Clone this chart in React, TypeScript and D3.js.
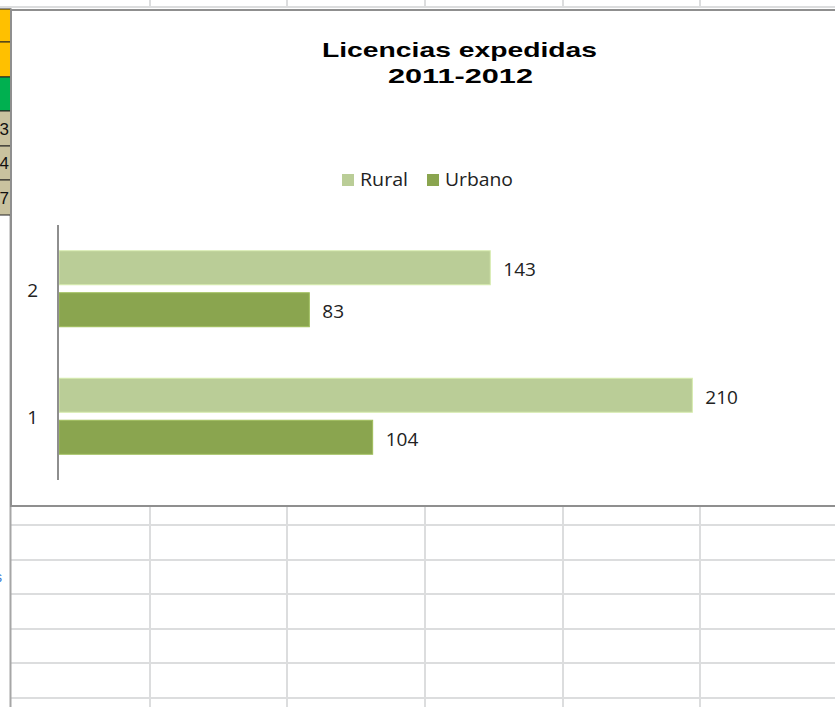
import { useRef, useEffect } from "react";
import * as d3 from "d3";

// chart data
const categories = ["2", "1"]; // top to bottom, as Excel draws them
const seriesNames = ["Rural", "Urbano"];
const rural = { "1": 210, "2": 143 };
const urbano = { "1": 104, "2": 83 };
const seriesColors = ["#BACD97", "#8AA54F"];
const titleLines = ["Licencias expedidas", "2011-2012"];

// spreadsheet decoration around the chart
const sheetCols = [150, 287, 425, 563, 700];
const sheetRows = [525, 560, 594, 629, 663, 698];
const leftCells = [
  { y0: 9, y1: 42, fill: "#FFC000", label: "" },
  { y0: 42, y1: 77, fill: "#FFC000", label: "" },
  { y0: 77, y1: 111, fill: "#00B050", label: "" },
  { y0: 111, y1: 146, fill: "#C9C29F", label: "3" },
  { y0: 146, y1: 180, fill: "#C9C29F", label: "4" },
  { y0: 180, y1: 215, fill: "#C9C29F", label: "7" },
];

const W = 835;
const H = 707;

const App = () => {
  const svgRef = useRef<SVGSVGElement>(null);

  useEffect(() => {
    const svg = d3.select(svgRef.current);
    svg.selectAll("*").remove();

    svg.append("rect").attr("width", W).attr("height", H).attr("fill", "#fff");

    // --- sheet grid
    const grid = svg.append("g").attr("stroke", "#DCDDDE").attr("stroke-width", 2);
    grid.append("line").attr("x1", 0).attr("x2", W).attr("y1", 7).attr("y2", 7);
    sheetCols.forEach((x) => {
      grid.append("line").attr("x1", x).attr("x2", x).attr("y1", 0).attr("y2", 8);
      grid.append("line").attr("x1", x).attr("x2", x).attr("y1", 507).attr("y2", H);
    });
    sheetRows.forEach((y) => {
      grid.append("line").attr("x1", 11).attr("x2", W).attr("y1", y).attr("y2", y);
    });
    svg.append("line")
      .attr("x1", 10.5).attr("x2", 10.5).attr("y1", 215).attr("y2", H)
      .attr("stroke", "#A6A6A6").attr("stroke-width", 2);
    svg.append("text")
      .attr("x", -5).attr("y", 582)
      .attr("font-family", "Liberation Sans, Arial, sans-serif")
      .attr("font-size", 14).attr("fill", "#3A7BD5")
      .text("s");

    const cells = svg.append("g");
    leftCells.forEach((c) => {
      cells.append("rect")
        .attr("x", -2).attr("y", c.y0).attr("width", 13).attr("height", c.y1 - c.y0)
        .attr("fill", c.fill).attr("stroke", "#222").attr("stroke-width", 1);
      if (c.label) {
        cells.append("text")
          .attr("x", 9).attr("y", (c.y0 + c.y1) / 2 + 6)
          .attr("text-anchor", "end")
          .attr("font-family", "Liberation Sans, Arial, sans-serif")
          .attr("font-size", 17).attr("fill", "#111")
          .text(c.label);
      }
    });

    // --- chart frame
    svg.append("rect")
      .attr("x", 11).attr("y", 10).attr("width", W + 20).attr("height", 496)
      .attr("fill", "#fff").attr("stroke", "#8F8F8F").attr("stroke-width", 2);

    // title
    const title = svg.append("g")
      .attr("font-family", "Liberation Sans, Arial, sans-serif")
      .attr("font-weight", "bold").attr("font-size", 21).attr("fill", "#000")
      .attr("text-anchor", "middle");
    title.append("text").attr("x", 459.5).attr("y", 57)
      .attr("textLength", 275).attr("lengthAdjust", "spacingAndGlyphs").text(titleLines[0]);
    title.append("text").attr("x", 460.5).attr("y", 83)
      .attr("textLength", 145).attr("lengthAdjust", "spacingAndGlyphs").text(titleLines[1]);

    // legend
    const legend = svg.append("g")
      .attr("font-family", "Open Sans, sans-serif").attr("font-size", 18).attr("fill", "#222");
    const legendX = [342, 427];
    const legendLen = [48, 68];
    seriesNames.forEach((name, i) => {
      legend.append("rect")
        .attr("x", legendX[i]).attr("y", 174).attr("width", 12).attr("height", 12)
        .attr("fill", seriesColors[i]);
      legend.append("text")
        .attr("x", legendX[i] + 18).attr("y", 186)
        .attr("textLength", legendLen[i]).attr("lengthAdjust", "spacingAndGlyphs")
        .text(name);
    });

    // scales
    const xScale = d3.scaleLinear().domain([0, 250]).range([58, 812]);
    const yScale = d3.scaleBand<string>()
      .domain(categories)
      .range([225, 480])
      .paddingInner(0.404)
      .paddingOuter(0.202);
    const ySeries = d3.scaleBand<string>()
      .domain(seriesNames)
      .range([0, yScale.bandwidth()])
      .paddingInner(0.19);

    const values = [rural, urbano];

    const bars = svg.append("g");
    categories.forEach((cat) => {
      seriesNames.forEach((name, i) => {
        const v = values[i][cat];
        const y = (yScale(cat) ?? 0) + (ySeries(name) ?? 0);
        bars.append("rect")
          .attr("x", xScale(0) + 1)
          .attr("y", y)
          .attr("width", xScale(v) - xScale(0))
          .attr("height", ySeries.bandwidth())
          .attr("fill", seriesColors[i])
          .attr("stroke", d3.color(seriesColors[i])!.brighter(0.4).formatHex())
          .attr("stroke-width", 1);
        bars.append("text")
          .attr("x", xScale(v) + 14)
          .attr("y", y + ySeries.bandwidth() / 2 + 8.5)
          .attr("font-family", "Open Sans, sans-serif")
          .attr("font-size", 19).attr("fill", "#222")
          .text(v);
      });
    });

    // category axis
    svg.append("line")
      .attr("x1", 58).attr("x2", 58).attr("y1", 225).attr("y2", 480)
      .attr("stroke", "#8E8E8E").attr("stroke-width", 2);
    categories.forEach((cat) => {
      svg.append("text")
        .attr("x", 38)
        .attr("y", (yScale(cat) ?? 0) + yScale.bandwidth() / 2 + 8)
        .attr("text-anchor", "end")
        .attr("font-family", "Open Sans, sans-serif")
        .attr("font-size", 19).attr("fill", "#222")
        .text(cat);
    });
  }, []);

  return (
    <svg
      ref={svgRef}
      width={W}
      height={H}
      style={{ position: "fixed", left: 0, top: 0, overflow: "hidden" }}
    />
  );
};

export default App;
